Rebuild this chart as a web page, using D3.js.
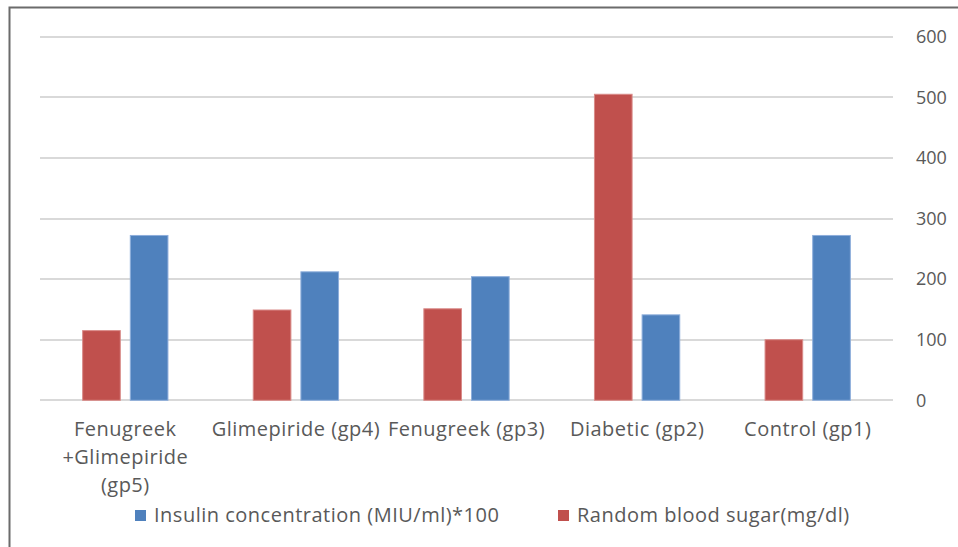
<!DOCTYPE html>
<html>
<head>
  <meta charset="utf-8" />
  <title>Insulin and blood sugar by group</title>
  <script type="text/javascript" src="https://cdn.jsdelivr.net/npm/d3@7/dist/d3.min.js"></script>
  <style type="text/css">
  body {
    margin: 0;
    background: #fff;
    font-family: "Open Sans", "Noto Sans", sans-serif;
  }
  text {
    fill: #595959;
    font-size: 20px;
    letter-spacing: 0.5px;
  }
  .yaxis text {
    font-size: 18px;
    letter-spacing: 0;
  }
  .grid line {
    stroke: #d9d9d9;
    stroke-width: 2px;
    shape-rendering: crispedges;
  }
  </style>
</head>
<body>
  <script type="text/javascript">
    var categories = ['Fenugreek +Glimepiride (gp5)', 'Glimepiride (gp4)', 'Fenugreek (gp3)', 'Diabetic (gp2)', 'Control (gp1)']
    var categoryLines = [['Fenugreek', '+Glimepiride', '(gp5)'], ['Glimepiride (gp4)'], ['Fenugreek (gp3)'], ['Diabetic (gp2)'], ['Control (gp1)']]
    var sugar = [115, 149, 151, 505, 100]
    var insulin = [272, 212, 204, 141, 272]
    var seriesNames = ['Random blood sugar(mg/dl)', 'Insulin concentration (MIU/ml)*100']
    var yTicks = [0, 100, 200, 300, 400, 500, 600]

    var w = 958, h = 547,
        plotLeft = 40, plotRight = 893, plotTop = 36.7, plotBottom = 400.3

    var colors = { sugar: '#c0504d', insulin: '#4f81bd' }
    var strokes = { sugar: '#d98b89', insulin: '#8eaedb' }

    var x0 = d3.scaleBand().domain(categories).range([plotLeft, plotRight]).paddingInner(0.5).paddingOuter(0.25)
    var x1 = d3.scaleBand().domain(['sugar', 'insulin']).range([0, x0.bandwidth()]).paddingInner(0.21)
    var y = d3.scaleLinear().domain([0, 600]).range([plotBottom, plotTop])

    var svg = d3.select(document.body)
      .append('svg')
      .attr('width', w)
      .attr('height', h)

    // frame
    svg.append('rect')
      .attr('x', 9.5).attr('y', 7.5)
      .attr('width', w).attr('height', h)
      .attr('fill', 'none')
      .attr('stroke', '#6b6b6b')
      .attr('stroke-width', 2)

    svg.append('g')
      .attr('class', 'grid')
      .selectAll('line')
      .data(yTicks)
    .enter().append('line')
      .attr('x1', plotLeft).attr('x2', plotRight)
      .attr('y1', function(d) { return y(d) })
      .attr('y2', function(d) { return y(d) })

    var yAxis = svg.append('g')
      .attr('class', 'yaxis')
      .attr('transform', 'translate(' + (plotRight + 23) + ',0)')
      .call(d3.axisRight(y).tickValues(yTicks).tickSize(0).tickPadding(0))
    yAxis.select('.domain').remove()
    yAxis.attr('font-size', null).attr('font-family', null)

    var rows = categories.map(function(c, i) {
      return { cat: c, lines: categoryLines[i], sugar: sugar[i], insulin: insulin[i] }
    })

    var groups = svg.selectAll('.group')
      .data(rows)
    .enter().append('g')
      .attr('class', 'group')
      .attr('transform', function(d) { return 'translate(' + x0(d.cat) + ',0)' })

    groups.selectAll('rect')
      .data(function(d) { return ['sugar', 'insulin'].map(function(k) { return { key: k, value: d[k] } }) })
    .enter().append('rect')
      .attr('x', function(d) { return x1(d.key) })
      .attr('width', x1.bandwidth())
      .attr('y', function(d) { return y(d.value) })
      .attr('height', function(d) { return plotBottom - y(d.value) })
      .attr('fill', function(d) { return colors[d.key] })
      .attr('stroke', function(d) { return strokes[d.key] })
      .attr('stroke-width', 1)

    var labels = svg.append('g').selectAll('text')
      .data(rows)
    .enter().append('text')
      .attr('text-anchor', 'middle')
      .attr('x', function(d) { return x0(d.cat) + x0.bandwidth() / 2 })
      .attr('y', 436)

    labels.selectAll('tspan')
      .data(function(d) { return d.lines })
    .enter().append('tspan')
      .attr('x', function() { return d3.select(this.parentNode).attr('x') })
      .attr('dy', function(d, i) { return i === 0 ? 0 : 28 })
      .text(function(d) { return d })

    // legend
    var legendItems = [
      { key: 'insulin', name: seriesNames[1], x: 135 },
      { key: 'sugar', name: seriesNames[0], x: 558 }
    ]
    var legend = svg.append('g').selectAll('g')
      .data(legendItems)
    .enter().append('g')
      .attr('transform', function(d) { return 'translate(' + d.x + ',510)' })
    legend.append('rect')
      .attr('width', 11).attr('height', 11)
      .attr('fill', function(d) { return colors[d.key] })
    legend.append('text')
      .attr('x', 19).attr('y', 12)
      .text(function(d) { return d.name })
  </script>
</body>
</html>
